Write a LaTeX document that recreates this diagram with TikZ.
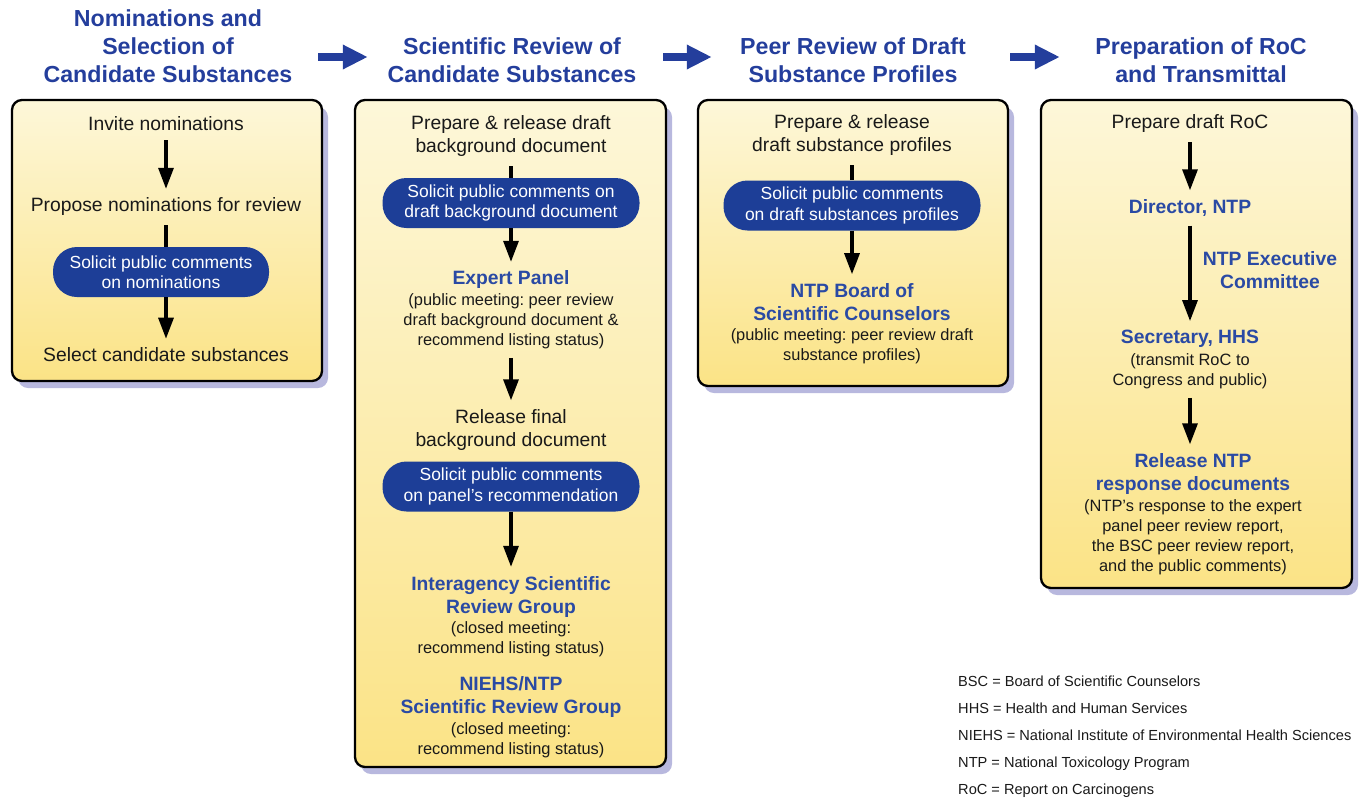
\documentclass[tikz,border=0pt]{standalone}
\usepackage{fontspec}
\setmainfont{Liberation Sans}
\usetikzlibrary{arrows.meta,shadows}
\definecolor{roctitle}{RGB}{36,62,156}
\definecolor{rochead}{RGB}{42,74,164}
\definecolor{rocpill}{RGB}{29,62,151}
\definecolor{paneltop}{RGB}{253,247,217}
\definecolor{panelbot}{RGB}{251,227,134}
\definecolor{panelshadow}{RGB}{184,184,222}
\definecolor{roctext}{RGB}{25,25,25}
\frenchspacing
\begin{document}
\begin{tikzpicture}[x=1pt,y=-1pt,>={Triangle[length=21pt,width=15pt]},
  rocpanel/.style={draw=black,line width=2.3pt,rounded corners=10pt,
    top color=paneltop,bottom color=panelbot,
    drop shadow={shadow xshift=6pt,shadow yshift=-7pt,fill=panelshadow,opacity=1}},
  stagetitle/.style={text=roctitle,font=\fontsize{23.2}{28}\selectfont\bfseries,align=center,inner sep=0pt},
  plain/.style={text=roctext,font=\fontsize{19.3}{23}\selectfont,align=center,inner xsep=2pt,inner ysep=9pt},
  bluehead/.style={plain,text=rochead,font=\fontsize{19.3}{23}\selectfont\bfseries},
  remark/.style={plain,font=\fontsize{16.4}{20}\selectfont},
  pill/.style={fill=rocpill,text=white,rounded corners=24pt,minimum height=50pt,
    font=\fontsize{17.5}{20.5}\selectfont,align=center,inner sep=0pt},
  legend/.style={text=roctext,font=\fontsize{14.6}{27}\selectfont,align=left,inner sep=0pt},
  flowarrow/.style={->,line width=3.2pt,black},
  flowline/.style={line width=3.2pt,black},
  stagearrow/.style={-{Triangle[length=25pt,width=23pt]},line width=8pt,roctitle}]
\useasboundingbox (0,0) rectangle (1363,801);

% the four stage panels
\path[rocpanel] (12,100) rectangle (322,381);
\path[rocpanel] (355,100) rectangle (666,767);
\path[rocpanel] (698,100) rectangle (1008,386);
\path[rocpanel] (1041,100) rectangle (1352,588);

% stage titles
\path
(168,46)  node[stagetitle] (t1) {Nominations and\\Selection of\\Candidate Substances}
(512,60)  node[stagetitle] (t2) {Scientific Review of\\Candidate Substances}
(853,60)  node[stagetitle] (t3) {Peer Review of Draft\\Substance Profiles}
(1201,60) node[stagetitle] (t4) {Preparation of RoC\\and Transmittal};
\draw[stagearrow,transform canvas={yshift=3pt},shorten <=25.6pt,shorten >=19.6pt] (t1.east |- t2.west) -- (t2.west);
\draw[stagearrow,transform canvas={yshift=3pt},shorten <=26.6pt,shorten >=28.2pt] (t2.east) -- (t3.west);
\draw[stagearrow,transform canvas={yshift=3pt},shorten <=44.2pt,shorten >=35.3pt] (t3.east) -- (t4.west);

% nominations
\path
(166,124) node[plain] (inv) {Invite nominations}
(166,207) node[plain] (prop) {Propose nominations for review}
(161,272) node[pill,minimum width=216pt] (pill1) {Solicit public comments\\on nominations}
(166,355) node[plain] (sel) {Select candidate substances};
\draw[flowarrow] (inv) -- (prop);
\draw[flowline] (prop) -- (prop |- pill1.north);
\draw[flowarrow] (sel |- pill1.south) -- (sel);

% scientific review
\path
(511,136.5) node[plain] (prep2) {Prepare \& release draft\\background document}
(511,203)   node[pill,minimum width=257pt] (pill2) {Solicit public comments on\\draft background document}
(511,280)   node[bluehead] (expert) {Expert Panel}
(511,321)   node[remark] (expertnote) {(public meeting: peer review\\draft background document \&\\recommend listing status)}
(511,430)   node[plain] (final) {Release final\\background document}
(511,486.5) node[pill,minimum width=257pt] (pill3) {Solicit public comments\\on panel's recommendation}
(511,596.5) node[bluehead] (isrg) {Interagency Scientific\\Review Group}
(511,639)   node[remark] (isrgnote) {(closed meeting:\\recommend listing status)}
(511,697)   node[bluehead] (srg) {NIEHS/NTP\\Scientific Review Group}
(511,740)   node[remark] (srgnote) {(closed meeting:\\recommend listing status)};
\draw[flowline] (prep2) -- (pill2);
\draw[flowarrow] (pill2) -- (expert);
\draw[flowarrow] (expertnote) -- (final);
\draw[flowarrow] (pill3) -- (isrg);

% peer review
\path
(852,135.5) node[plain] (prep3) {Prepare \& release\\draft substance profiles}
(852,205.5) node[pill,minimum width=257pt] (pill4) {Solicit public comments\\on draft substances profiles}
(852,302)   node[bluehead] (bsc) {NTP Board of\\Scientific Counselors}
(852,346)   node[remark] (bscnote) {(public meeting: peer review draft\\substance profiles)};
\draw[flowline] (prep3) -- (pill4);
\draw[flowarrow] (pill4) -- (bsc);

% preparation and transmittal
\path
(1190,124)   node[plain] (prep4) {Prepare draft RoC}
(1190,208)   node[bluehead] (director) {Director, NTP}
(1270,270.5) node[bluehead] (execc) {NTP Executive\\Committee}
(1190,339)   node[bluehead] (secretary) {Secretary, HHS}
(1190,371)   node[remark] (secnote) {(transmit RoC to\\Congress and public)}
(1193,474)   node[bluehead] (release) {Release NTP\\response documents}
(1193,537)   node[remark] (relnote) {(NTP's response to the expert\\panel peer review report,\\the BSC peer review report,\\and the public comments)};
\draw[flowarrow] (prep4) -- (director);
\draw[flowarrow] (director) -- (secretary);
\draw[flowarrow] (secnote) -- (secnote |- release.north);

% abbreviations
\node[legend,anchor=west] (abbr) at (958,737) {BSC = Board of Scientific Counselors\\HHS = Health and Human Services\\NIEHS = National Institute of Environmental Health Sciences\\NTP = National Toxicology Program\\RoC = Report on Carcinogens};
\end{tikzpicture}
\end{document}
